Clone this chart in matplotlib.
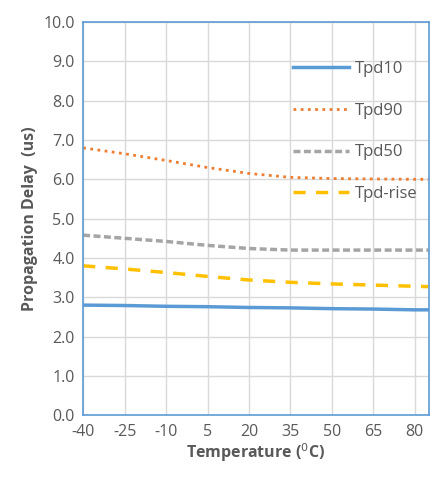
import matplotlib
matplotlib.use("Agg")
import matplotlib.pyplot as plt

# temperature points (degC)
temps = [-40, -25, -10, 5, 20, 35, 50, 65, 80, 85]
tick_temps = [-40, -25, -10, 5, 20, 35, 50, 65, 80]

# propagation delays (us)
tpd10 = [2.80, 2.79, 2.77, 2.76, 2.74, 2.73, 2.71, 2.70, 2.68, 2.68]
tpd90 = [6.80, 6.65, 6.48, 6.30, 6.15, 6.05, 6.02, 6.01, 6.00, 6.00]
tpd50 = [4.58, 4.50, 4.42, 4.32, 4.24, 4.20, 4.20, 4.20, 4.20, 4.20]
tpd_rise = [3.80, 3.72, 3.63, 3.53, 3.44, 3.38, 3.34, 3.31, 3.28, 3.27]

plt.rcParams['font.family'] = ['Open Sans', 'DejaVu Sans']
plt.rcParams['axes.unicode_minus'] = False
text_grey = '#595959'

fig = plt.figure(figsize=(4.4, 4.8), dpi=100)
ax = fig.add_axes([0.189, 0.135, 0.785, 0.819])

ax.plot(temps, tpd10, color='#5B9BD5', lw=2.5, label='Tpd10')
ax.plot(temps, tpd90, color='#ED7D31', lw=2.0, linestyle=(0, (1, 1.6)), label='Tpd90')
ax.plot(temps, tpd50, color='#A5A5A5', lw=2.5, linestyle=(0, (2, 1)), label='Tpd50')
ax.plot(temps, tpd_rise, color='#FFC000', lw=2.5, linestyle=(0, (3.5, 3)), label='Tpd-rise')

ax.set_xlim(-40, 85)
ax.set_ylim(0, 10)
ax.set_xticks(tick_temps)
ax.set_xticklabels([str(t) for t in tick_temps])
ax.set_yticks([i for i in range(11)])
ax.set_yticklabels([f'{i:.1f}' for i in range(11)])
ax.grid(True, color='#D9D9D9', lw=1)
ax.set_axisbelow(True)
ax.tick_params(length=0, labelsize=11.5, colors=text_grey, pad=6)

for side in ax.spines.values():
    side.set_color('#5B9BD5')
    side.set_linewidth(1.2)

ax.set_xlabel('Temperature ($^0$C)', fontsize=11.5, fontweight='bold', color=text_grey, labelpad=1)
ax.set_ylabel('Propagation Delay  (us)', fontsize=11.5, fontweight='bold', color=text_grey, labelpad=4)

leg = ax.legend(loc='upper right', bbox_to_anchor=(1.01, 0.94), frameon=False,
                fontsize=12, handlelength=3.4, labelspacing=1.55, handletextpad=0.3)
for t in leg.get_texts():
    t.set_color(text_grey)

fig.savefig('out.png', dpi=100)
